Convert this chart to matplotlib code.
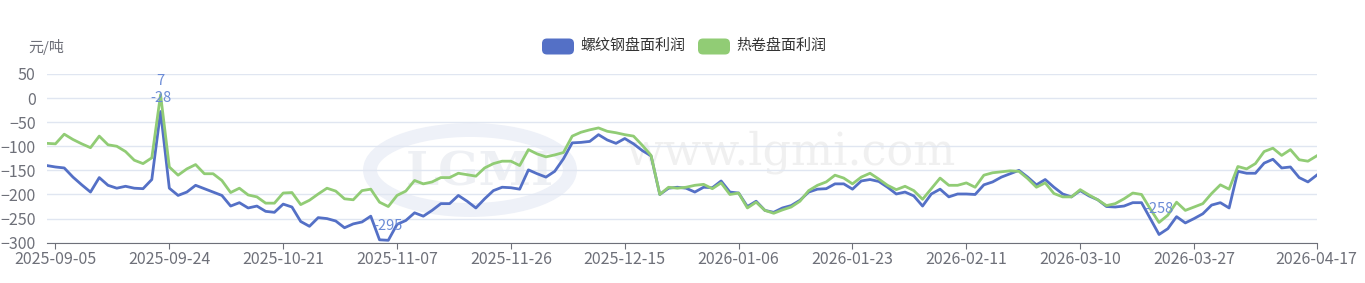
import matplotlib.pyplot as plt
import numpy as np
from matplotlib.patches import FancyBboxPatch, Ellipse

plt.rcParams['font.family'] = ['Noto Sans CJK SC', 'DejaVu Sans']

# 螺纹钢盘面利润 / 热卷盘面利润, one value per trading day (146 points)
rebar = [-140, -143, -145, -164, -180, -195, -165, -181, -187, -183, -187, -188, -169, -28,
         -187, -202, -195, -181, -188, -195, -202, -224, -217, -228, -224, -235, -237,
         -220, -226, -256, -266, -248, -250, -255, -269, -261, -257, -245, -294, -295,
         -262, -254, -238, -245, -233, -219, -219, -202, -214, -228, -209, -192, -185, -186,
         -189, -149, -157, -164, -152, -126, -93, -92, -90, -76, -87, -94, -84,
         -95, -109, -120, -200, -187, -185, -187, -195, -185, -186, -172, -195, -197,
         -225, -214, -233, -237, -228, -223, -212, -195, -189, -188, -178, -178, -189,
         -172, -169, -173, -185, -199, -195, -203, -224, -199, -189, -205, -199, -199,
         -200, -180, -174, -164, -157, -150, -164, -180, -169, -185, -199, -205, -192,
         -203, -211, -225, -226, -224, -217, -217, -250, -283, -271, -246, -259, -250, -240,
         -222, -217, -228, -152, -156, -156, -135, -127, -145, -143, -165, -174, -160]
hrc = [-94, -95, -75, -86, -95, -103, -79, -97, -100, -111, -129, -136, -124, 7,
       -143, -160, -147, -138, -157, -157, -171, -196, -187, -201, -205, -218, -218,
       -197, -196, -221, -212, -199, -187, -193, -209, -211, -192, -189, -216, -225,
       -202, -193, -171, -178, -174, -165, -165, -156, -159, -162, -145, -136, -131, -131,
       -140, -107, -116, -122, -118, -113, -79, -71, -66, -62, -69, -72, -76,
       -79, -98, -119, -200, -185, -187, -185, -181, -179, -188, -176, -200, -197,
       -228, -216, -233, -239, -232, -226, -214, -192, -181, -174, -160, -166, -178,
       -164, -156, -168, -181, -190, -183, -192, -210, -188, -166, -181, -181, -176,
       -185, -160, -155, -153, -151, -152, -167, -185, -176, -198, -205, -205, -190,
       -201, -211, -223, -219, -209, -197, -200, -230, -258, -243, -216, -233, -226, -219,
       -198, -180, -189, -142, -147, -136, -111, -104, -119, -107, -128, -131, -120]
tick_labels = ['2025-09-05', '2025-09-24', '2025-10-21', '2025-11-07', '2025-11-26',
               '2025-12-15', '2026-01-06', '2026-01-23', '2026-02-11', '2026-03-10',
               '2026-03-27', '2026-04-17']
tick_idx = [1, 14, 27, 40, 53, 66, 79, 92, 105, 118, 131, 145]
names = ['螺纹钢盘面利润', '热卷盘面利润']
colors = ['#5470C6', '#91CC75']

W, H = 1365, 283
fig = plt.figure(figsize=(W / 100, H / 100), dpi=100)

# background layer in pixel coords: watermark, legend, unit
bg = fig.add_axes([0, 0, 1, 1])
bg.set_xlim(0, W)
bg.set_ylim(H, 0)
bg.axis('off')
bg.add_patch(Ellipse((470, 170), 200, 80, fill=False, lw=10, ec='#eef1f8'))
bg.text(480, 172, 'LGMI', fontsize=34, color='#eef0f4', ha='center', va='center',
        fontweight='bold', family='DejaVu Serif')
bg.text(790, 152, 'www.lgmi.com', fontsize=32, color='#f0f0f0', ha='center', va='center',
        family='DejaVu Serif')
bg.text(28, 47, '元/吨', fontsize=10.8, color='#6E7079', ha='left', va='center')

leg_x = [541, 697]
for lx, name, c in zip(leg_x, names, colors):
    bg.add_patch(FancyBboxPatch((lx + 1, 38.5), 32, 16, boxstyle='round,pad=0,rounding_size=5',
                                fc=c, ec='none'))
    bg.text(lx + 39, 46, name, fontsize=10.8, color='#333333', ha='left', va='center')

ax = fig.add_axes([46.7 / W, 1 - 242.7 / H, (1316.7 - 46.7) / W, (242.7 - 73.9) / H])
ax.patch.set_alpha(0)

x = np.arange(len(rebar))
for ys, c in zip([rebar, hrc], colors):
    ax.plot(x, ys, color=c, lw=2.0, solid_joinstyle='round', zorder=3)

# max / min labels
for ys in [rebar, hrc]:
    arr = np.array(ys)
    for i in [arr.argmax(), arr.argmin()]:
        ax.annotate(str(arr[i]), (x[i], arr[i]), xytext=(0, 10), textcoords='offset points',
                    ha='center', va='center', fontsize=10.5, color='#6B8BD6', zorder=5)

ax.set_xlim(0, len(rebar) - 1)
ax.set_ylim(-300, 50)
ax.set_yticks(np.arange(-300, 51, 50))
ax.grid(axis='y', color='#E0E6F1', lw=1)
ax.set_axisbelow(True)
for s in ['top', 'right', 'left']:
    ax.spines[s].set_visible(False)
ax.spines['bottom'].set_color('#6E7079')
ax.tick_params(axis='y', length=0, pad=8, labelsize=11.5, labelcolor='#6E7079')
ax.set_xticks(tick_idx)
ax.set_xticklabels(tick_labels)
ax.tick_params(axis='x', length=4, color='#6E7079', pad=2, labelsize=11.5,
               labelcolor='#6E7079')

fig.savefig('out.png', dpi=100)
